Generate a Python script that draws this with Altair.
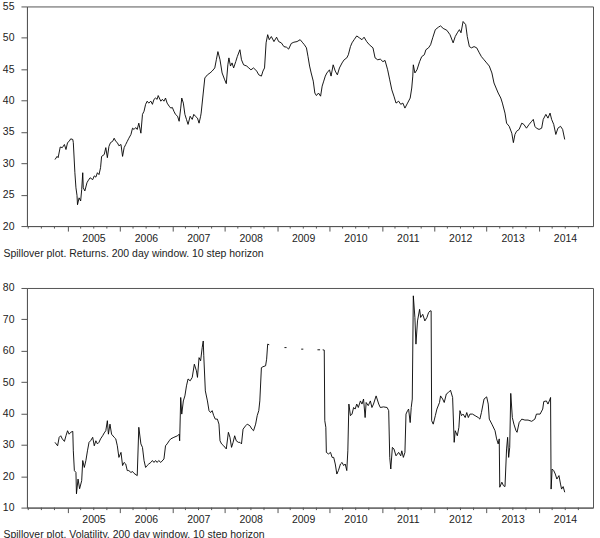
import altair as alt
import pandas as pd

# ---- Return spillover index (decimal year, index value) ----
ret_t = [
    2004.76, 2004.80, 2004.82, 2004.86, 2004.90, 2004.94, 2004.97, 2005.00, 2005.03, 2005.06,
    2005.10, 2005.11, 2005.14, 2005.16, 2005.18, 2005.19, 2005.22, 2005.25, 2005.27, 2005.29,
    2005.30, 2005.33, 2005.37, 2005.39, 2005.43, 2005.48, 2005.51, 2005.54, 2005.57, 2005.60,
    2005.63, 2005.65, 2005.70, 2005.73, 2005.76, 2005.79, 2005.82, 2005.86, 2005.89, 2005.92,
    2005.95, 2005.98, 2006.02, 2006.05, 2006.08, 2006.11, 2006.14, 2006.17, 2006.21, 2006.24,
    2006.27, 2006.30, 2006.33, 2006.36, 2006.40, 2006.43, 2006.46, 2006.49, 2006.52, 2006.55,
    2006.59, 2006.62, 2006.65, 2006.68, 2006.71, 2006.73, 2006.78, 2006.81, 2006.84, 2006.87,
    2006.90, 2006.94, 2006.97, 2007.00, 2007.03, 2007.06, 2007.10, 2007.13, 2007.16, 2007.18,
    2007.21, 2007.24, 2007.27, 2007.30, 2007.34, 2007.38, 2007.41, 2007.44, 2007.48, 2007.51,
    2007.54, 2007.55, 2007.59, 2007.62, 2007.67, 2007.72, 2007.76, 2007.81, 2007.84, 2007.87,
    2007.91, 2007.95, 2008.00, 2008.03, 2008.06, 2008.08, 2008.11, 2008.14, 2008.17, 2008.21,
    2008.24, 2008.29, 2008.32, 2008.36, 2008.42, 2008.46, 2008.50, 2008.55, 2008.61, 2008.65,
    2008.70, 2008.73, 2008.76, 2008.79, 2008.82, 2008.85, 2008.89, 2008.94, 2008.99, 2009.03,
    2009.08, 2009.13, 2009.18, 2009.22, 2009.27, 2009.32, 2009.38, 2009.44, 2009.48, 2009.52,
    2009.56, 2009.59, 2009.62, 2009.65, 2009.69, 2009.72, 2009.75, 2009.79, 2009.83, 2009.86,
    2009.89, 2009.92, 2009.95, 2010.00, 2010.03, 2010.07, 2010.11, 2010.15, 2010.19, 2010.24,
    2010.28, 2010.33, 2010.36, 2010.40, 2010.43, 2010.47, 2010.52, 2010.57, 2010.62, 2010.66,
    2010.71, 2010.76, 2010.83, 2010.87, 2010.92, 2010.97, 2011.02, 2011.06, 2011.11, 2011.15,
    2011.19, 2011.23, 2011.27, 2011.32, 2011.36, 2011.40, 2011.44, 2011.49, 2011.54, 2011.57,
    2011.59, 2011.60, 2011.63, 2011.67, 2011.72, 2011.76, 2011.81, 2011.84, 2011.89, 2011.93,
    2011.97, 2012.02, 2012.08, 2012.12, 2012.17, 2012.24, 2012.30, 2012.36, 2012.40, 2012.44,
    2012.48, 2012.51, 2012.55, 2012.60, 2012.63, 2012.67, 2012.71, 2012.76, 2012.81, 2012.86,
    2012.90, 2012.95, 2013.00, 2013.05, 2013.10, 2013.14, 2013.18, 2013.22, 2013.27, 2013.30,
    2013.35, 2013.38, 2013.43, 2013.48, 2013.51, 2013.54, 2013.57, 2013.62, 2013.67, 2013.71,
    2013.76, 2013.81, 2013.86, 2013.89, 2013.92, 2013.95, 2014.00, 2014.05, 2014.08, 2014.13,
    2014.17, 2014.21, 2014.24, 2014.28, 2014.32, 2014.36, 2014.41, 2014.45, 2014.49,
]
ret_v = [
    30.6, 31.1, 30.9, 32.6, 32.5, 33.0, 32.2, 33.3, 33.5, 33.9,
    33.8, 33.3, 28.5, 26.1, 24.9, 23.4, 24.5, 24.0, 25.8, 28.5,
    26.1, 25.6, 26.9, 27.2, 27.7, 27.4, 28.0, 27.8, 28.5, 28.2,
    29.3, 31.1, 31.4, 32.5, 30.9, 32.7, 33.3, 33.5, 34.0, 33.5,
    33.3, 32.8, 33.0, 31.1, 32.5, 33.0, 33.5, 34.0, 34.6, 35.6,
    35.4, 35.7, 35.4, 36.4, 34.8, 37.8, 38.3, 39.4, 39.9, 39.6,
    39.9, 39.4, 40.2, 40.4, 40.2, 40.8, 39.9, 40.2, 39.9, 40.4,
    39.6, 39.1, 38.8, 38.9, 38.3, 37.8, 37.5, 36.7, 38.8, 40.4,
    39.6, 37.8, 37.0, 36.2, 37.5, 37.0, 37.8, 37.5, 37.2, 36.4,
    37.5, 38.0, 41.2, 43.6, 44.1, 44.4, 44.7, 45.2, 46.5, 47.8,
    46.5, 44.4, 43.3, 42.7, 45.7, 46.8, 45.5, 46.0, 45.2, 46.2,
    47.0, 48.1, 46.5, 45.7, 45.5, 45.2, 44.9, 45.2, 44.7, 44.1,
    43.9, 44.7, 45.2, 49.2, 50.5, 49.7, 50.2, 49.4, 50.1, 49.4,
    49.2, 48.6, 48.5, 48.2, 49.1, 49.3, 49.4, 49.7, 49.3, 48.9,
    48.4, 47.0, 45.5, 44.4, 43.1, 41.2, 40.8, 41.2, 40.7, 42.3,
    43.1, 43.9, 44.4, 44.9, 43.9, 45.7, 44.7, 44.1, 45.2, 46.0,
    46.5, 46.8, 47.3, 48.6, 49.2, 49.7, 50.3, 50.0, 49.7, 50.1,
    49.4, 48.9, 48.4, 46.8, 46.5, 46.6, 46.2, 46.4, 44.9, 43.3,
    41.7, 40.7, 39.6, 39.9, 39.4, 39.6, 38.8, 39.6, 40.4, 42.0,
    43.9, 45.7, 44.4, 44.9, 46.2, 47.0, 47.3, 48.1, 48.4, 48.9,
    50.0, 51.3, 51.7, 51.9, 51.5, 51.2, 50.5, 49.2, 50.2, 50.8,
    51.3, 50.8, 52.6, 52.1, 50.2, 48.6, 48.4, 48.6, 48.4, 47.6,
    47.0, 46.5, 46.0, 45.5, 44.4, 42.8, 42.0, 41.2, 40.4, 39.6,
    38.0, 36.4, 35.9, 34.8, 33.3, 34.6, 35.1, 35.4, 36.4, 36.2,
    35.6, 36.2, 36.7, 37.0, 35.9, 35.6, 35.4, 35.6, 37.0, 37.8,
    37.2, 38.0, 37.0, 36.2, 34.6, 35.6, 35.9, 35.4, 33.8,
]

# ---- Volatility spillover index; None marks a break in the series ----
vol_t = [
    2004.76, 2004.81, 2004.84, 2004.87, 2004.90, 2004.94, 2004.97, 2005.00, 2005.03, 2005.06,
    2005.10, 2005.11, 2005.13, 2005.16, 2005.17, 2005.20, 2005.23, 2005.27, 2005.29, 2005.32,
    2005.35, 2005.38, 2005.41, 2005.44, 2005.48, 2005.51, 2005.54, 2005.57, 2005.60, 2005.63,
    2005.67, 2005.70, 2005.73, 2005.76, 2005.78, 2005.81, 2005.84, 2005.89, 2005.92, 2005.95,
    2005.98, 2006.02, 2006.05, 2006.08, 2006.11, 2006.14, 2006.17, 2006.21, 2006.24, 2006.27,
    2006.33, 2006.36, 2006.40, 2006.43, 2006.46, 2006.49, 2006.52, 2006.55, 2006.59, 2006.62,
    2006.65, 2006.68, 2006.71, 2006.74, 2006.78, 2006.84, 2006.87, 2006.90, 2006.94, 2006.97,
    2007.03, 2007.10, 2007.13, 2007.14, 2007.16, 2007.18, 2007.21, 2007.24, 2007.27, 2007.30,
    2007.34, 2007.38, 2007.42, 2007.46, 2007.48, 2007.51, 2007.54, 2007.57, 2007.59, 2007.60,
    2007.63, 2007.67, 2007.70, 2007.73, 2007.76, 2007.79, 2007.82, 2007.86, 2007.89, 2007.91,
    2007.94, 2007.98, 2008.03, 2008.07, 2008.10, 2008.13, 2008.16, 2008.19, 2008.22, 2008.26,
    2008.29, 2008.32, 2008.35, 2008.40, 2008.43, 2008.48, 2008.52, 2008.55, 2008.59, 2008.62,
    2008.65, 2008.67, 2008.70, 2008.73, 2008.78, 2008.80, 2008.82, 2008.85,
    None, 2009.14, 2009.18,
    None, 2009.46, 2009.50,
    None, 2009.77, 2009.82,
    None,
    2009.87, 2009.90, 2009.91, 2009.93, 2009.94, 2009.98, 2010.02, 2010.05, 2010.08, 2010.11,
    2010.14, 2010.17, 2010.21, 2010.24, 2010.27, 2010.30, 2010.33, 2010.35, 2010.37, 2010.40,
    2010.43, 2010.46, 2010.49, 2010.52, 2010.55, 2010.59, 2010.62, 2010.65, 2010.68, 2010.70,
    2010.74, 2010.78, 2010.81, 2010.84, 2010.89, 2010.94, 2010.97, 2011.03, 2011.10, 2011.13,
    2011.15, 2011.17, 2011.20, 2011.23, 2011.27, 2011.32, 2011.36, 2011.38, 2011.41, 2011.44,
    2011.46, 2011.49, 2011.51, 2011.54, 2011.56, 2011.58, 2011.60, 2011.63, 2011.65, 2011.68,
    2011.72, 2011.74, 2011.78, 2011.82, 2011.86, 2011.89, 2011.92, 2011.94, 2011.95, 2011.98,
    2012.02, 2012.05, 2012.10, 2012.12, 2012.16, 2012.19, 2012.23, 2012.27, 2012.31, 2012.35,
    2012.38, 2012.40, 2012.44, 2012.47, 2012.49, 2012.52, 2012.55, 2012.59, 2012.62, 2012.65,
    2012.68, 2012.73, 2012.78, 2012.84, 2012.87, 2012.90, 2012.95, 2013.00, 2013.03, 2013.05,
    2013.10, 2013.16, 2013.19, 2013.22, 2013.24, 2013.25, 2013.29, 2013.32, 2013.35, 2013.38,
    2013.40, 2013.42, 2013.44, 2013.46, 2013.49, 2013.52, 2013.56, 2013.58, 2013.62, 2013.67,
    2013.73, 2013.79, 2013.86, 2013.92, 2013.95, 2014.02, 2014.07, 2014.09, 2014.14, 2014.17,
    2014.21, 2014.22, 2014.23, 2014.25, 2014.28, 2014.31, 2014.34, 2014.38, 2014.41, 2014.43,
    2014.46, 2014.49,
]
vol_v = [
    30.8, 29.7, 32.4, 32.9, 31.9, 31.1, 32.9, 34.5, 33.4, 34.0,
    34.3, 28.1, 21.8, 21.2, 14.4, 19.1, 16.0, 18.6, 25.0, 22.8,
    25.0, 28.1, 30.8, 31.3, 32.4, 29.7, 31.3, 30.3, 30.8, 31.9,
    32.9, 33.8, 34.5, 37.7, 33.4, 36.6, 33.4, 32.4, 31.9, 29.7,
    26.0, 27.6, 23.4, 24.4, 23.9, 21.8, 21.8, 21.2, 21.5, 20.9,
    20.2, 35.6, 30.3, 29.2, 25.0, 22.8, 23.4, 23.9, 24.4, 25.0,
    24.4, 25.0, 24.4, 25.0, 24.4, 25.5, 29.7, 30.3, 31.3, 31.9,
    32.4, 32.9, 33.4, 31.3, 45.1, 39.8, 44.0, 45.6, 48.8, 51.0,
    50.4, 51.5, 55.7, 53.6, 51.5, 57.8, 56.8, 61.0, 63.1, 58.4,
    47.2, 44.0, 40.9, 40.3, 40.9, 39.3, 38.2, 38.2, 36.6, 31.3,
    30.3, 29.7, 28.7, 34.0, 32.4, 29.2, 30.8, 32.9, 31.3, 30.8,
    30.8, 30.3, 35.0, 36.1, 36.6, 36.1, 35.0, 34.5, 36.6, 39.3,
    40.9, 44.0, 54.6, 54.9, 55.2, 57.3, 62.1, 61.9,
    None, 61.0, 61.0,
    None, 60.5, 60.5,
    None, 60.3, 60.3,
    None,
    60.3, 60.2, 37.7, 35.6, 27.6, 27.1, 27.6, 26.0, 26.0, 23.9,
    20.7, 21.8, 23.9, 24.4, 23.4, 23.9, 21.8, 28.1, 43.0, 39.3,
    39.8, 41.9, 41.4, 43.0, 41.9, 44.0, 43.0, 44.6, 38.7, 43.5,
    42.5, 44.0, 41.9, 43.0, 45.6, 43.0, 41.9, 42.1, 41.9, 40.9,
    26.0, 22.3, 29.2, 28.7, 26.5, 27.6, 26.5, 28.1, 26.0, 27.6,
    39.8, 40.9, 41.4, 37.1, 41.9, 44.6, 77.5, 70.6, 62.1, 69.5,
    73.2, 70.6, 71.6, 69.5, 70.6, 72.1, 72.7, 72.7, 37.7, 36.6,
    39.3, 41.4, 43.5, 45.6, 44.6, 43.5, 46.2, 46.7, 47.4, 45.1,
    30.8, 34.5, 32.9, 35.6, 40.9, 39.3, 39.8, 38.7, 40.3, 38.7,
    39.8, 39.8, 39.3, 38.7, 38.2, 40.3, 44.6, 45.3, 43.0, 38.2,
    36.6, 34.5, 31.9, 30.3, 31.9, 16.5, 18.1, 17.0, 16.7, 28.7,
    32.4, 26.0, 29.2, 46.4, 38.7, 36.6, 34.5, 34.0, 37.1, 38.2,
    37.9, 37.9, 37.5, 38.2, 39.8, 39.8, 41.4, 43.8, 44.0, 43.0,
    44.6, 45.1, 15.9, 22.3, 21.8, 20.7, 19.1, 20.2, 17.5, 15.9,
    16.7, 14.9,
]

# ---- Axis setup ----
years = list(range(2005, 2015))
quarters = [y + q for y in range(2004, 2015) for q in (0.25, 0.5, 0.75)]
x_domain = [2004.225, 2015.03]

captions = [
    "Spillover plot. Returns. 200 day window. 10 step horizon",
    "Spillover plot. Volatility. 200 day window. 10 step horizon",
]

FONT = "Liberation Sans"
INK = "#222222"
FRAME = "#555555"
W, H = 567, 220


def to_frame(ts, vs):
    rows, seg = [], 0
    for t, v in zip(ts, vs):
        if t is None:
            seg += 1
            continue
        rows.append({"t": t, "v": v, "seg": seg})
    return pd.DataFrame(rows)


def panel(df, ymin, ymax, ystep, caption):
    x_axis = alt.Axis(
        values=years, format="d", tickSize=5, labelOffset=26, labelPadding=2,
        labelFlush=False, labelOverlap=False, grid=False,
        title=caption, titleX=-24, titleY=27, titleAlign="left",
        titleBaseline="middle", titleFontWeight="normal",
    )
    y_axis = alt.Axis(
        values=list(range(ymin, ymax + 1, ystep)), tickSize=6, labelPadding=7,
        labelOverlap=False, grid=False, title=None,
    )
    x_scale = alt.Scale(domain=x_domain, nice=False, zero=False)
    line = alt.Chart(df).mark_line(color="black", strokeWidth=0.9).encode(
        x=alt.X("t:Q", scale=x_scale, axis=x_axis),
        y=alt.Y("v:Q", scale=alt.Scale(domain=[ymin, ymax], nice=False, zero=False), axis=y_axis),
        detail="seg:N",
    )
    # quarterly minor ticks hanging below the time axis
    minor = alt.Chart(pd.DataFrame({"t": quarters})).mark_rule(
        color=FRAME, strokeWidth=1
    ).encode(
        x=alt.X("t:Q", scale=x_scale, axis=x_axis),
        y=alt.value(H),
        y2=alt.value(H + 2.5),
    )
    return alt.layer(line, minor).properties(width=W, height=H)


top = panel(to_frame(ret_t, ret_v), 20, 55, 5, captions[0])
bottom = panel(to_frame(vol_t, vol_v), 10, 80, 10, captions[1])

chart = alt.vconcat(top, bottom, spacing=23).properties(
    padding={"left": 1, "top": 0, "right": 6, "bottom": 0},
    background="white",
).configure_view(
    stroke=FRAME, strokeWidth=1
).configure_axis(
    domainColor=FRAME, tickColor=FRAME, labelColor=INK, titleColor=INK,
    labelFont=FONT, titleFont=FONT, labelFontSize=10.5, titleFontSize=10.5,
)

chart.save("out.html", embed_options={"renderer": "svg", "actions": False})
